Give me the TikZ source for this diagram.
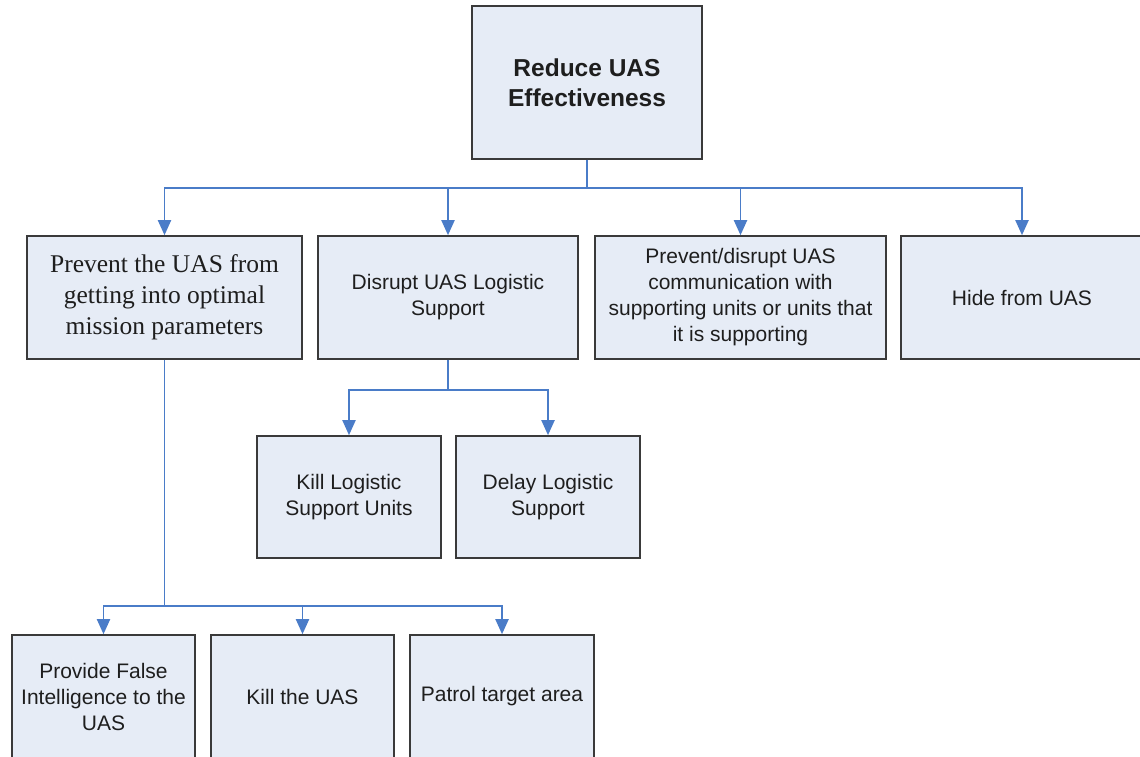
\documentclass[tikz,border=0pt]{standalone}
\usepackage{fontspec}
\setmainfont{Liberation Sans}
\newfontfamily\serifface{Liberation Serif}
\usetikzlibrary{arrows.meta}
\definecolor{boxfill}{HTML}{E6ECF6}
\definecolor{boxline}{HTML}{3A3A3A}
\definecolor{connblue}{HTML}{4A7CC8}
\definecolor{txt}{HTML}{1E1E1E}
\tikzset{
  goalbox/.style={draw=boxline, line width=1.6pt, fill=boxfill, inner sep=0pt,
    align=center, text=txt, font=\fontsize{21}{26}\selectfont},
  conn/.style={draw=connblue, line width=1.9pt,
    -{Triangle[length=15pt,width=13pt,fill=connblue]}}
}
\begin{document}
\begin{tikzpicture}[x=1pt,y=-1pt]
\path[use as bounding box, clip] (0,0) rectangle (1140,757);
\fill[white] (0,0) rectangle (1140,757);
% top
\node[goalbox, minimum width=230pt, minimum height=153pt,
  font=\fontsize{24.5}{30}\selectfont\bfseries] (top) at (587,82.5) {Reduce UAS\\Effectiveness};
% row 2
\node[goalbox, minimum width=275pt, minimum height=123pt,
  font=\serifface\fontsize{25.5}{31}\selectfont] (b1) at (164.5,297.5) {Prevent the UAS from\\getting into optimal\\mission parameters};
\node[goalbox, minimum width=260pt, minimum height=123pt] (b2) at (448,297.5) {Disrupt UAS Logistic\\Support};
\node[goalbox, minimum width=291pt, minimum height=123pt] (b3) at (740.5,297.5) {Prevent/disrupt UAS\\communication with\\supporting units or units that\\it is supporting};
\node[goalbox, minimum width=242pt, minimum height=123pt] (b4) at (1022,297.5) {Hide from UAS};
% row 3
\node[goalbox, minimum width=184pt, minimum height=122pt] (c1) at (349,497) {Kill Logistic\\Support Units};
\node[goalbox, minimum width=184pt, minimum height=122pt] (c2) at (548,497) {Delay Logistic\\Support};
% row 4
\node[goalbox, minimum width=183pt, minimum height=123pt] (d1) at (103.5,696.5) {Provide False\\Intelligence to the\\UAS};
\node[goalbox, minimum width=183pt, minimum height=123pt] (d2) at (302.5,696.5) {Kill the UAS};
\node[goalbox, minimum width=184pt, minimum height=123pt] (d3) at (502,696.5) {Patrol target area};
% connectors from top
\draw[conn] (top.south) -- ++(0,28) -| (b1.north);
\draw[conn] (top.south) -- ++(0,28) -| (b2.north);
\draw[conn] (top.south) -- ++(0,28) -| (b3.north);
\draw[conn] (top.south) -- ++(0,28) -| (b4.north);
% connectors from b2
\draw[conn] (b2.south) -- ++(0,30) -| (c1.north);
\draw[conn] (b2.south) -- ++(0,30) -| (c2.north);
% connectors from b1
\draw[conn] (b1.south) -- ++(0,246) -| (d1.north);
\draw[conn] (b1.south) -- ++(0,246) -| (d2.north);
\draw[conn] (b1.south) -- ++(0,246) -| (d3.north);
\end{tikzpicture}
\end{document}
